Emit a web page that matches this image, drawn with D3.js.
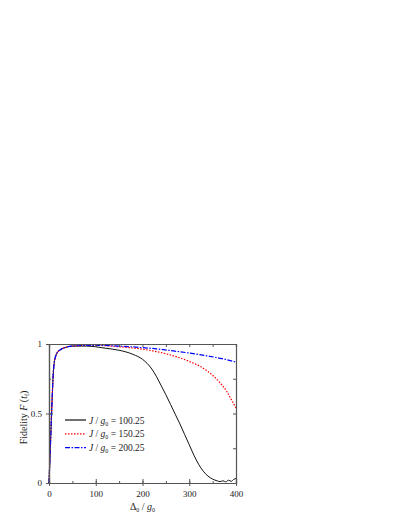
<!DOCTYPE html>
<html>
<head>
<meta charset="utf-8">
<script src="https://cdn.jsdelivr.net/npm/d3@7"></script>
<style>
  body { margin: 0; background: #fff; }
  svg text { font-family: "Liberation Serif", "DejaVu Serif", serif; fill: #222; }
</style>
</head>
<body>
<div class="chart"></div>
<script>
const width = 399, height = 516;
const margin = { left: 49, right: 163, top: 344, bottom: 33 };

// x values (Δ0 / g0) and fidelity readings per curve
const riseX = [0, 2.5, 5, 7, 9, 11, 14, 18, 25, 35, 50];
const riseF = [0, 0.22, 0.45, 0.63, 0.78, 0.86, 0.91, 0.94, 0.96, 0.975, 0.985];

const blackX = [80, 100, 120, 150, 180, 200, 210, 220, 230, 240, 250, 260, 270, 280, 290, 300, 310, 320, 330, 340, 350, 360, 366, 372, 378, 384, 390, 395, 400];
const blackF = [0.985, 0.98, 0.97, 0.955, 0.925, 0.89, 0.86, 0.82, 0.765, 0.7, 0.635, 0.565, 0.495, 0.425, 0.35, 0.275, 0.2, 0.135, 0.085, 0.05, 0.028, 0.015, 0.01, 0.016, 0.008, 0.02, 0.012, 0.026, 0.032];

const redX = [80, 100, 150, 195, 230, 266, 300, 337, 366, 380, 390, 400];
const redF = [0.99, 0.99, 0.98, 0.965, 0.945, 0.915, 0.875, 0.81, 0.72, 0.66, 0.6, 0.54];

const blueX = [80, 100, 150, 195, 230, 266, 300, 337, 370, 400];
const blueF = [0.99, 0.99, 0.985, 0.975, 0.965, 0.95, 0.935, 0.915, 0.895, 0.87];

const seriesNames = ["100.25", "150.25", "200.25"];
const seriesColors = ["#111", "#ff0000", "#0000ff"];
const seriesDash = [null, "1.5,1.5", "5,1.5,1.5,1.5"];

const xTicks = [0, 100, 200, 300, 400];
const yTicks = [0, 0.5, 1];

const svg = d3.select(".chart").append("svg")
  .attr("width", width).attr("height", height);

const x = d3.scaleLinear().domain([0, 400]).range([margin.left, width - margin.right]);
const y = d3.scaleLinear().domain([0, 1]).range([height - margin.bottom, margin.top]);

const series = [
  { xs: riseX.concat(blackX), fs: riseF.concat(blackF) },
  { xs: riseX.concat(redX), fs: riseF.concat(redF) },
  { xs: riseX.concat(blueX), fs: riseF.concat(blueF) }
];

const line = d3.line().x(d => x(d[0])).y(d => y(d[1])).curve(d3.curveMonotoneX);

svg.append("g").selectAll("path").data(series).enter().append("path")
  .attr("fill", "none")
  .attr("stroke", (d, i) => seriesColors[i])
  .attr("stroke-width", (d, i) => i == 0 ? 1 : 1.2)
  .attr("stroke-dasharray", (d, i) => seriesDash[i])
  .attr("d", d => line(d.xs.map((v, k) => [v, d.fs[k]])));

// axes, ticks pointing in, mirrored on top and right
const axisColor = "#555";
function styleAxis(g) {
  g.attr("font-family", null);
  g.select(".domain").attr("stroke", axisColor).attr("stroke-width", 1.2);
  g.selectAll(".tick line").attr("stroke", axisColor);
  g.selectAll("text").style("font-size", "9px");
}
const xMinor = d3.range(0, 401, 50);
const yMinor = d3.range(0, 1.01, 0.25);

svg.append("g").attr("transform", "translate(0," + y(0) + ")")
  .call(d3.axisBottom(x).tickValues(xMinor).tickSize(-2).tickFormat(""))
  .call(styleAxis);
svg.append("g").attr("transform", "translate(0," + y(0) + ")")
  .call(d3.axisBottom(x).tickValues(xTicks).tickSize(-4).tickPadding(8).tickFormat(d3.format("d")))
  .call(styleAxis)
  .call(g => g.selectAll(".tick line").attr("y2", 3).attr("y1", -4));
svg.append("g").attr("transform", "translate(0," + y(1) + ")")
  .call(d3.axisTop(x).tickValues(xMinor).tickSize(-3).tickFormat(""))
  .call(styleAxis);

svg.append("g").attr("transform", "translate(" + x(0) + ",0)")
  .call(d3.axisLeft(y).tickValues(yMinor).tickSize(-2).tickFormat(""))
  .call(styleAxis);
svg.append("g").attr("transform", "translate(" + x(0) + ",0)")
  .call(d3.axisLeft(y).tickValues(yTicks).tickSize(-4).tickPadding(7).tickFormat(d => d == 0.5 ? "0.5" : d))
  .call(styleAxis)
  .call(g => g.selectAll(".tick line").attr("x2", -3).attr("x1", 4));
svg.append("g").attr("transform", "translate(" + x(400) + ",0)")
  .call(d3.axisRight(y).tickValues(yMinor).tickSize(-3).tickFormat(""))
  .call(styleAxis);

// axis titles
const xt = svg.append("text").attr("x", (x(0) + x(400)) / 2).attr("y", 510)
  .attr("text-anchor", "middle").style("font-size", "10px");
xt.append("tspan").text("Δ");
xt.append("tspan").text("0").attr("dy", 2).style("font-size", "6px");
xt.append("tspan").text(" / ").attr("dy", -2);
xt.append("tspan").text("g").style("font-style", "italic");
xt.append("tspan").text("0").attr("dy", 2).style("font-size", "6px");

const yt = svg.append("text")
  .attr("transform", "translate(27," + ((y(0) + y(1)) / 2 + 4) + ") rotate(-90)")
  .attr("text-anchor", "middle").style("font-size", "10px");
yt.append("tspan").text("Fidelity ");
yt.append("tspan").text("F").style("font-style", "italic");
yt.append("tspan").text(" (");
yt.append("tspan").text("t").style("font-style", "italic");
yt.append("tspan").text("f").attr("dy", 2).style("font-size", "6px");
yt.append("tspan").text(")").attr("dy", -2);

// legend
const legend = svg.append("g").selectAll("g").data(seriesNames).enter().append("g")
  .attr("transform", (d, i) => "translate(65," + (420 + i * 13.8) + ")");
legend.append("line").attr("x1", 0).attr("x2", 21).attr("y1", 0).attr("y2", 0)
  .attr("stroke", (d, i) => seriesColors[i])
  .attr("stroke-width", 1.2)
  .attr("stroke-dasharray", (d, i) => seriesDash[i]);
const lt = legend.append("text").attr("x", 24).attr("y", 3.5).style("font-size", "9.5px");
lt.append("tspan").text("J").style("font-style", "italic");
lt.append("tspan").text(" / ");
lt.append("tspan").text("g").style("font-style", "italic");
lt.append("tspan").text("0").attr("dy", 2).style("font-size", "6px");
lt.append("tspan").text(d => " = " + d).attr("dy", -2);
</script>
</body>
</html>
